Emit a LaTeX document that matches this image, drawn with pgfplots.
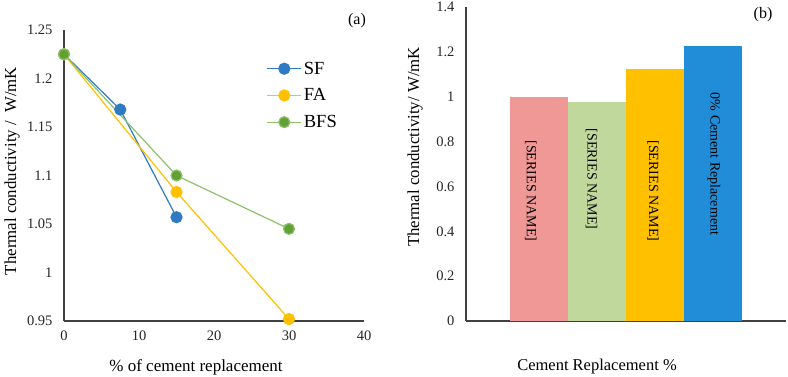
\documentclass[border=0pt]{standalone}
\usepackage{fontspec}
\setmainfont{Liberation Serif}
\usepackage{pgfplots}
\pgfplotsset{compat=1.18}

\definecolor{sfblue}{HTML}{2E7BC4}
\definecolor{faorange}{HTML}{FFC000}
\definecolor{bfsline}{HTML}{8CC16A}
\definecolor{bfsmark}{HTML}{62A035}
\definecolor{barpink}{HTML}{F09896}
\definecolor{bargreen}{HTML}{C0D89C}
\definecolor{barorange}{HTML}{FFC000}
\definecolor{barblue}{HTML}{218DD8}
\definecolor{axisgray}{HTML}{404040}

\pgfplotsset{
  excel/.style={
    scale only axis,
    anchor=south west,
    axis lines=left,
    axis line style={draw=axisgray, line width=1.3pt, -},
    major tick length=0pt,
    tick label style={font=\fontsize{14.5}{16}\selectfont, text=black!85},
    xticklabel style={yshift=-6pt},
    yticklabel style={xshift=-8pt},
    /pgf/number format/assume math mode=true,
    clip=false,
  }
}

\begin{document}
\begin{tikzpicture}
\useasboundingbox (0,0) rectangle (788pt,377pt);

% (a) line chart
\begin{axis}[excel,
    at={(64pt,56pt)}, width=300pt, height=291pt,
    xmin=0, xmax=40, ymin=0.95, ymax=1.25,
    xtick={0,10,20,30,40},
    ytick={0.95,1,1.05,1.1,1.15,1.2,1.25},
    legend style={at={(0.665,0.905)}, anchor=north west, draw=none, fill=none,
        font=\fontsize{18.5}{20}\selectfont, row sep=9pt},
    legend cell align=left,
    legend image code/.code={
        \draw[mark repeat=2, mark phase=2] plot coordinates {(0pt,0pt) (17pt,0pt) (34pt,0pt)};},
]
\addplot[sfblue, line width=1.2pt, mark=*, mark size=5.5pt,
    mark options={fill=sfblue, draw=sfblue}] coordinates {
    (0,1.225) (7.5,1.168) (15,1.057)};
\addplot[faorange, line width=1.2pt, mark=*, mark size=5.5pt,
    mark options={fill=faorange, draw=faorange}] coordinates {
    (0,1.225) (15,1.083) (30,0.952)};
\addplot[bfsline, line width=1.2pt, mark=*, mark size=5.5pt,
    mark options={fill=bfsmark, draw=bfsline}] coordinates {
    (0,1.225) (15,1.1) (30,1.045)};
\legend{SF, FA, BFS}
\end{axis}

% (b) bar chart
\begin{axis}[excel,
    at={(466pt,56pt)}, width=320pt, height=314pt,
    xmin=-1.259, xmax=4.259, ymin=0, ymax=1.4,
    xtick=\empty,
    ytick={0,0.2,0.4,0.6,0.8,1,1.2,1.4},
]
\addplot[ybar, bar width=1, fill=barpink, draw=none] coordinates {(0,1.0)};
\addplot[ybar, bar width=1, fill=bargreen, draw=none] coordinates {(1,0.976)};
\addplot[ybar, bar width=1, fill=barorange, draw=none] coordinates {(2,1.123)};
\addplot[ybar, bar width=1, fill=barblue, draw=none] coordinates {(3,1.226)};
\begin{scope}[every node/.style={font=\fontsize{14}{16}\selectfont, rotate=-90, inner sep=0pt}]
\node at (axis cs:-0.14,0.58) {[SERIES NAME]};
\node at (axis cs:0.905,0.633) {[SERIES NAME]};
\node at (axis cs:1.966,0.58) {[SERIES NAME]};
\node at (axis cs:3.017,0.70) {0\% Cement Replacement};
\end{scope}
\end{axis}

% titles and axis labels
\node[font=\fontsize{16.8}{18}\selectfont, rotate=90] at (12pt,206pt) {Thermal conductivity /\ \ W/mK};
\node[font=\fontsize{17}{19}\selectfont] at (196pt,10pt) {\% of cement replacement};
\node[font=\fontsize{16.8}{18}\selectfont, rotate=90] at (415pt,230pt) {Thermal conductivity/ W/mK};
\node[font=\fontsize{16.5}{18}\selectfont] at (597pt,10pt) {Cement Replacement \%};
\node[font=\fontsize{16}{18}\selectfont] at (357pt,356pt) {(a)};
\node[font=\fontsize{16}{18}\selectfont] at (763pt,362pt) {(b)};
\end{tikzpicture}
\end{document}
